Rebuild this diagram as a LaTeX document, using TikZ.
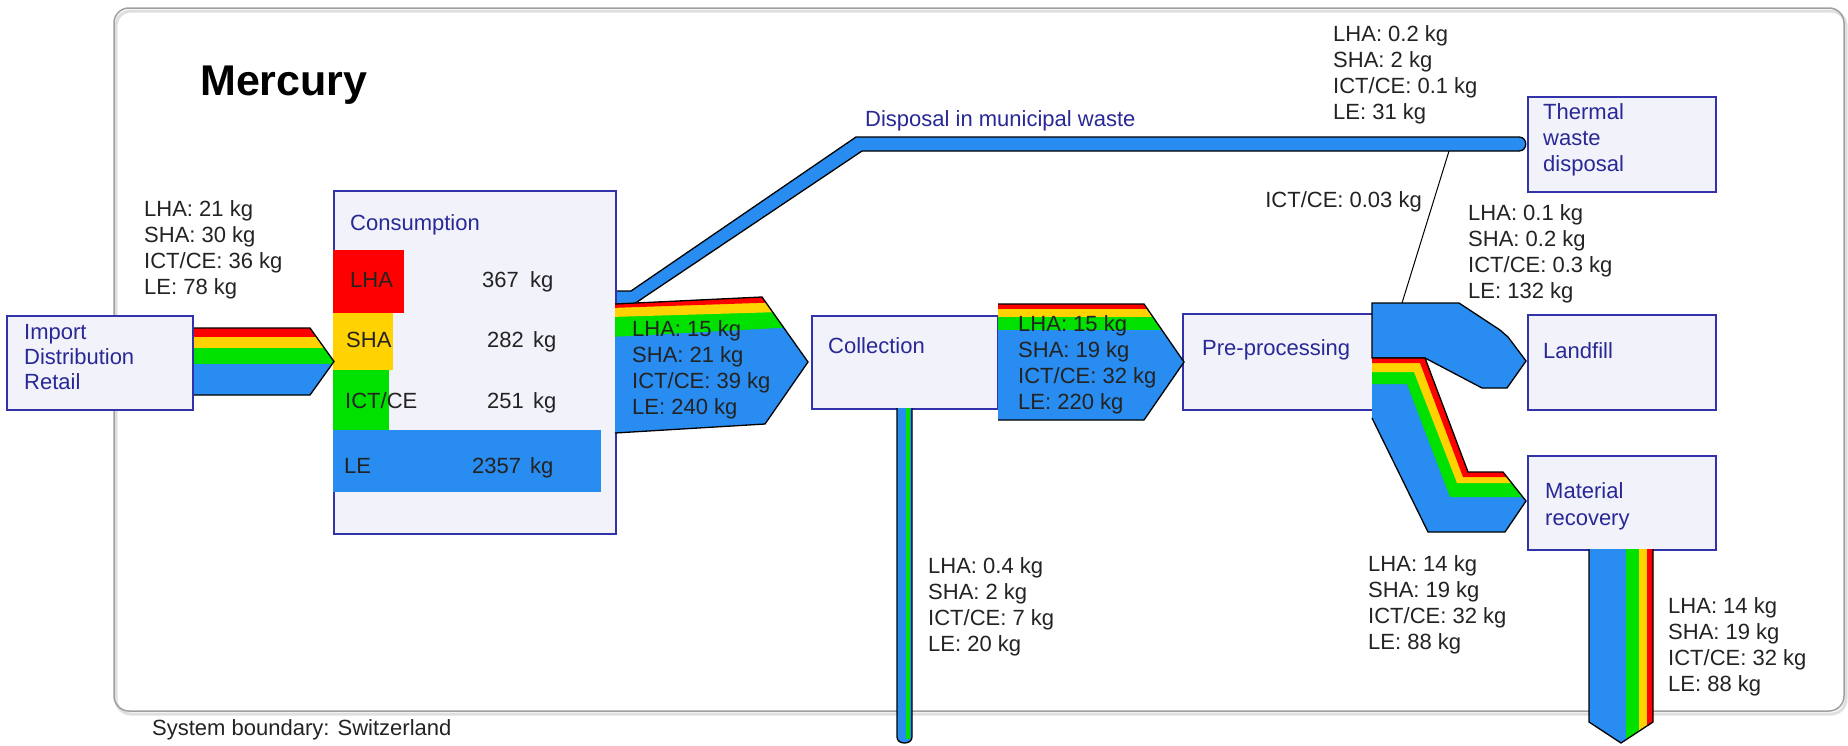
\documentclass[tikz,border=0pt]{standalone}
\usepackage{fontspec}
\setmainfont{Liberation Sans}
\definecolor{cred}{RGB}{255,0,0}
\definecolor{cyel}{RGB}{255,210,0}
\definecolor{cgrn}{RGB}{0,225,0}
\definecolor{cblu}{RGB}{40,140,240}
\definecolor{navy}{RGB}{40,40,150}
\definecolor{boxline}{RGB}{50,50,170}
\definecolor{boxfill}{RGB}{242,242,250}
\definecolor{lblc}{RGB}{35,35,35}
\newcommand\myfs{\fontsize{22}{26}\selectfont}
\tikzset{
  box/.style={draw=boxline, fill=boxfill, line width=1.8pt, inner sep=0pt, anchor=north west},
  btxt/.style={text=navy, font=\myfs, align=left, inner sep=0pt, anchor=north west},
  ltxt/.style={text=lblc, font=\myfs, align=left, inner sep=0pt, anchor=north west},
  ntxt/.style={text=lblc, font=\myfs, inner sep=0pt, anchor=base west},
  outl/.style={draw=black, line width=1.3pt},
}
\begin{document}
\begin{tikzpicture}[x=1pt,y=-1pt]
\useasboundingbox (0,0) rectangle (1848,745);
\fill[white] (0,0) rectangle (1848,745);
% system boundary frame
\draw[gray!25, line width=3pt, rounded corners=15pt] (116,11) rectangle (1846,714);
\draw[gray!75, line width=1.5pt, rounded corners=15pt] (114,8) rectangle (1844,711);
\node[text=black, font=\fontsize{43}{50}\selectfont\bfseries, inner sep=0pt, anchor=base west] (title) at (200,95) {Mercury};
\node[text=lblc, font=\myfs, inner sep=0pt, anchor=base west] (sysb) at (152,735) {System boundary: Switzerland};

% disposal pipe (under the flows)
\filldraw[fill=cblu, outl] (615,291) -- (631,291) -- (856,137) -- (1519,137)
  .. controls (1528,137) and (1528,151) .. (1519,151) -- (862,151) -- (634,304) -- (615,304) -- cycle;

% boxes
\node[box, minimum width=186pt, minimum height=94pt] (imp) at (6,315) {};
\node[box, minimum width=282pt, minimum height=343pt] (cons) at (333,190) {};
\node[box, minimum width=186pt, minimum height=93pt] (coll) at (811,315) {};
\node[box, minimum width=190pt, minimum height=96pt] (pre) at (1182,313) {};
\node[box, minimum width=188pt, minimum height=95pt] (therm) at (1527,96) {};
\node[box, minimum width=188pt, minimum height=95pt] (land) at (1527,314) {};
\node[box, minimum width=188pt, minimum height=94pt] (mat) at (1527,455) {};

% box texts
\node[btxt] (timp) at (24,324) {Import\\[-1pt]Distribution\\[-1pt]Retail};
\node[btxt] (tcons) at (350,214) {Consumption};
\node[btxt] (tcoll) at (828,337) {Collection};
\node[btxt] (tpre) at (1202,339) {Pre-processing};
\node[btxt] (ttherm) at (1543,103) {Thermal\\waste\\disposal};
\node[btxt] (tland) at (1543,342) {Landfill};
\node[btxt] (tmat) at (1545,482) {Material\\[1pt]recovery};
\node[btxt] (tdisp) at (865,110) {Disposal in municipal waste};

% consumption bars
\fill[cred] (333,250) rectangle (404,313);
\fill[cyel] (333,313) rectangle (393,370);
\fill[cgrn] (333,370) rectangle (389,430);
\fill[cblu] (333,430) rectangle (601,492);
\node[ntxt] (c1) at (350,287) {LHA};
\node[ntxt] (c2) at (346,347) {SHA};
\node[ntxt] (c3) at (345,408) {ICT/CE};
\node[ntxt] (c4) at (344,473) {LE};
\node[ntxt] (n1) at (482,287) {367\hspace{5pt} kg};
\node[ntxt] (n2) at (487,347) {282 \hspace{3pt}kg};
\node[ntxt] (n3) at (487,408) {251 \hspace{3pt}kg};
\node[ntxt] (n4) at (472,473) {2357 \hspace{3pt}kg};

% arrow 1: import -> consumption
\begin{scope}
\clip (194,328) -- (310,328) -- (334,361.5) -- (310,395) -- (194,395) -- cycle;
\fill[cblu] (190,320) rectangle (340,400);
\fill[cred] (190,320) rectangle (340,337);
\fill[cyel] (190,337) rectangle (340,348);
\fill[cgrn] (190,348) rectangle (340,364);
\end{scope}
\draw[outl] (194,328) -- (310,328) -- (334,361.5) -- (310,395) -- (194,395);

% arrow 2: consumption -> collection
\begin{scope}
\clip (615,304) -- (762,297) -- (808,362) -- (765,424) -- (615,433) -- cycle;
\fill[cblu] (610,290) rectangle (815,440);
\fill[cgrn] (610,290) -- (815,290) -- (815,326) -- (610,337) -- cycle;
\fill[cyel] (610,290) -- (815,290) -- (815,311) -- (610,317) -- cycle;
\fill[cred] (610,290) -- (815,290) -- (815,301) -- (610,308) -- cycle;
\end{scope}
\draw[outl] (615,304) -- (762,297) -- (808,362) -- (765,424) -- (615,433);

% arrow 3: collection -> pre-processing
\begin{scope}
\clip (998,304) -- (1144,304) -- (1184,362) -- (1144,420) -- (998,420) -- cycle;
\fill[cblu] (990,300) rectangle (1190,425);
\fill[cred] (990,300) rectangle (1190,309);
\fill[cyel] (990,309) rectangle (1190,317);
\fill[cgrn] (990,317) rectangle (1190,330);
\end{scope}
\draw[outl] (998,304) -- (1144,304) -- (1184,362) -- (1144,420) -- (998,420);

% collection downward pipe
\fill[cblu] (897,408) -- (897,737) .. controls (897,745) and (912,745) .. (912,737) -- (912,408) -- cycle;
\fill[cgrn] (906,408) rectangle (910,739);
\draw[outl] (897,408) -- (897,737) .. controls (897,745) and (912,745) .. (912,737) -- (912,408);

% landfill flow
\filldraw[fill=cblu, outl] (1372,303) -- (1459,303) -- (1500,330) -- (1508,337) -- (1526,361)
  -- (1507,388) -- (1482,388) -- (1425,358) -- (1372,358) -- cycle;

% material recovery flow
\begin{scope}
\clip (1372,358) -- (1425,358) -- (1468,472) -- (1503,472) -- (1526,501) -- (1505,532) -- (1428,532) -- (1372,418) -- cycle;
\fill[cblu] (1360,350) rectangle (1540,540);
\fill[cgrn] (1360,340) -- (1560,340) -- (1560,497) -- (1450,497) -- (1407,384) -- (1360,384) -- cycle;
\fill[cyel] (1360,340) -- (1560,340) -- (1560,483) -- (1457,483) -- (1414,372) -- (1360,372) -- cycle;
\fill[cred] (1360,340) -- (1560,340) -- (1560,477) -- (1463,477) -- (1420,363) -- (1360,363) -- cycle;
\end{scope}
\draw[outl] (1372,358) -- (1425,358) -- (1468,472) -- (1503,472) -- (1526,501) -- (1505,532) -- (1428,532) -- (1372,418);

% material recovery outflow
\begin{scope}
\clip (1589,549) -- (1589,722) -- (1621,743) -- (1653,722) -- (1653,549) -- cycle;
\fill[cblu] (1585,545) rectangle (1626,745);
\fill[cgrn] (1626,545) rectangle (1639,745);
\fill[cyel] (1639,545) rectangle (1647,745);
\fill[cred] (1647,545) rectangle (1656,745);
\end{scope}
\draw[outl] (1589,549) -- (1589,722) -- (1621,743) -- (1653,722) -- (1653,549);

% thin line from pipe to pre-processing outflow
\coordinate (pa) at (1449,151);
\coordinate (pb) at (1402,303);
\draw[black, line width=1pt] (pa) -- (pb);

% labels
\node[ltxt] (l1) at (144,200) {LHA: 21 kg\\SHA: 30 kg\\ICT/CE: 36 kg\\LE: 78 kg};
\node[ltxt] (l2) at (632,320) {LHA: 15 kg\\SHA: 21 kg\\ICT/CE: 39 kg\\LE: 240 kg};
\node[ltxt] (l3) at (1018,315) {LHA: 15 kg\\SHA: 19 kg\\ICT/CE: 32 kg\\LE: 220 kg};
\node[ltxt] (l4) at (928,557) {LHA: 0.4 kg\\SHA: 2 kg\\ICT/CE: 7 kg\\LE: 20 kg};
\node[ltxt] (l5) at (1333,25) {LHA: 0.2 kg\\SHA: 2 kg\\ICT/CE: 0.1 kg\\LE: 31 kg};
\node[ltxt, anchor=north east] (l6) at (1422,191) {ICT/CE: 0.03 kg};
\node[ltxt] (l7) at (1468,204) {LHA: 0.1 kg\\SHA: 0.2 kg\\ICT/CE: 0.3 kg\\LE: 132 kg};
\node[ltxt] (l8) at (1368,555) {LHA: 14 kg\\SHA: 19 kg\\ICT/CE: 32 kg\\LE: 88 kg};
\node[ltxt] (l9) at (1668,597) {LHA: 14 kg\\SHA: 19 kg\\ICT/CE: 32 kg\\LE: 88 kg};
\end{tikzpicture}
\end{document}
